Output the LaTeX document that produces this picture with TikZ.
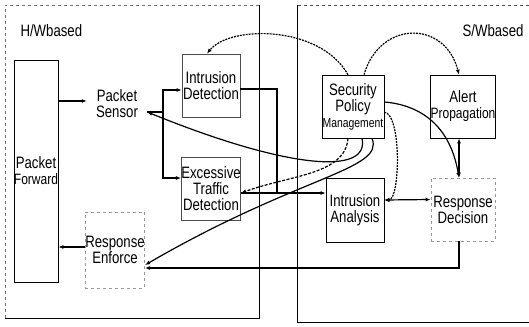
\documentclass[tikz,border=0pt]{standalone}
\usepackage{fontspec}
\setmainfont{Liberation Sans}[FakeStretch=0.8]
\usetikzlibrary{arrows.meta}

\newcommand{\bigtxt}{\fontsize{16.5}{16}\selectfont}
\newcommand{\midtxt}{\fontsize{15}{13}\selectfont}
\newcommand{\smalltxt}{\fontsize{13}{12}\selectfont}

\begin{document}
\begin{tikzpicture}[
    x=1pt, y=-1pt,
    % boxes, panels and connectors
    box/.style={draw, line width=0.7pt, inner sep=0pt, align=center, font=\bigtxt},
    faintbox/.style={box, draw=black!40, dashed},
    panel/.style={line width=0.8pt},
    wire/.style={line width=1.2pt},
    arr/.style={wire, -{Latex[length=5pt,width=4pt]}},
    darr/.style={wire, {Latex[length=5pt,width=4pt]}-{Latex[length=5pt,width=4pt]}},
    dotarr/.style={arr, dash pattern=on 2pt off 1pt}
]
  \useasboundingbox (0,0) rectangle (529,326);

  % H/W based panel
  \draw[panel, black!55, dashed] (259,5) -- (5,5) -- (5,318);
  \draw[panel] (5,318) -- (259,318) -- (259,5);
  \node[font=\bigtxt, anchor=base west] (hw) at (17,37) {H/Wbased};

  % S/W based panel
  \draw[panel, black!70, dashed] (529,5) -- (297,5);
  \draw[panel] (297,5) -- (297,322) -- (529,322);
  \node[font=\bigtxt, anchor=base east] (sw) at (527,37) {S/Wbased};

  % Hardware blocks
  \node[box, minimum width=44, minimum height=222] (pf) at (36,171) {Packet\\{\midtxt Forward}};
  \node[font=\bigtxt, align=center, minimum width=60] (ps) at (117,104) {Packet\\Sensor};
  \node[box, draw=black!70, minimum width=58, minimum height=63] (id) at (211,85.5) {Intrusion\\Detection};
  \node[box, draw=black!70, minimum width=58, minimum height=63] (etd) at (211,188.5) {Excessive\\Traffic\\Detection};
  \node[faintbox, minimum width=58, minimum height=76] (re) at (115,250) {Response\\Enforce};

  % Software blocks
  \node[box, minimum width=62, minimum height=63] (spm) at (353,106.5) {Security\\Policy\\{\smalltxt Management}};
  \node[box, minimum width=64, minimum height=63] (ap) at (463,106.5) {Alert\\{\midtxt Propagation}};
  \node[box, minimum width=58, minimum height=64] (ia) at (355,210) {Intrusion\\Analysis};
  \node[faintbox, minimum width=64, minimum height=63] (rd) at (463,209.5) {Response\\Decision};

  % helper points
  \coordinate (psin) at ([yshift=3pt]ps.west);
  \coordinate (psout) at ([yshift=-8pt]ps.east);
  \coordinate (fork) at (163,112);
  \coordinate (join) at (277,193);
  \coordinate (rein) at ([yshift=3pt]re.west);

  % packet flow
  \draw[arr] (psin -| pf.east) -- (psin);
  \draw[arr] (psout) -- (fork) |- ([yshift=-4.5pt]id.west);
  \draw[arr] (fork) |- ([yshift=10.5pt]etd.west);
  \draw[arr] ([yshift=-3.5pt]id.east) -| (join) -- (join -| ia.west);
  \draw[wire] (join -| etd.east) -- (join);
  \draw[arr] (rein) -- (rein -| pf.east);

  % analysis and response
  \draw[darr] ([yshift=10pt]ia.east) -- ([yshift=10pt]rd.west);
  \draw[darr] ([xshift=-4pt]ap.south) -- ([xshift=-4pt]rd.north);
  \draw[arr] ([xshift=-4pt]rd.south) |- ([yshift=-18pt]re.east);

  % policy management links
  \draw[dotarr] ([xshift=-5pt]spm.north) .. controls (320,25) and (230,25) .. ([xshift=-4pt]id.north);
  \draw[dotarr] ([xshift=11pt]spm.north) .. controls (380,20) and (445,20) .. ([xshift=-4pt]ap.north);
  \draw[arr] ([yshift=4.5pt]spm.east) .. controls (420,105) and (450,125) .. ([xshift=-4pt]rd.north);
  \draw[dotarr] ([yshift=-5.5pt]spm.east) .. controls (402,115) and (400,200) .. ([yshift=10pt]ia.east);
  \draw[arr, dash pattern=on 3pt off 1.5pt] ([xshift=-5pt]spm.south) .. controls (345,175) and (290,175) .. ([yshift=-4.5pt]etd.east);
  \draw[arr] ([xshift=9pt]spm.south) .. controls (370,175) and (290,170) .. (psout);
  \draw[arr] ([xshift=19pt]spm.south) .. controls (385,170) and (300,175) .. ([yshift=-15pt]re.east);

\end{tikzpicture}
\end{document}
